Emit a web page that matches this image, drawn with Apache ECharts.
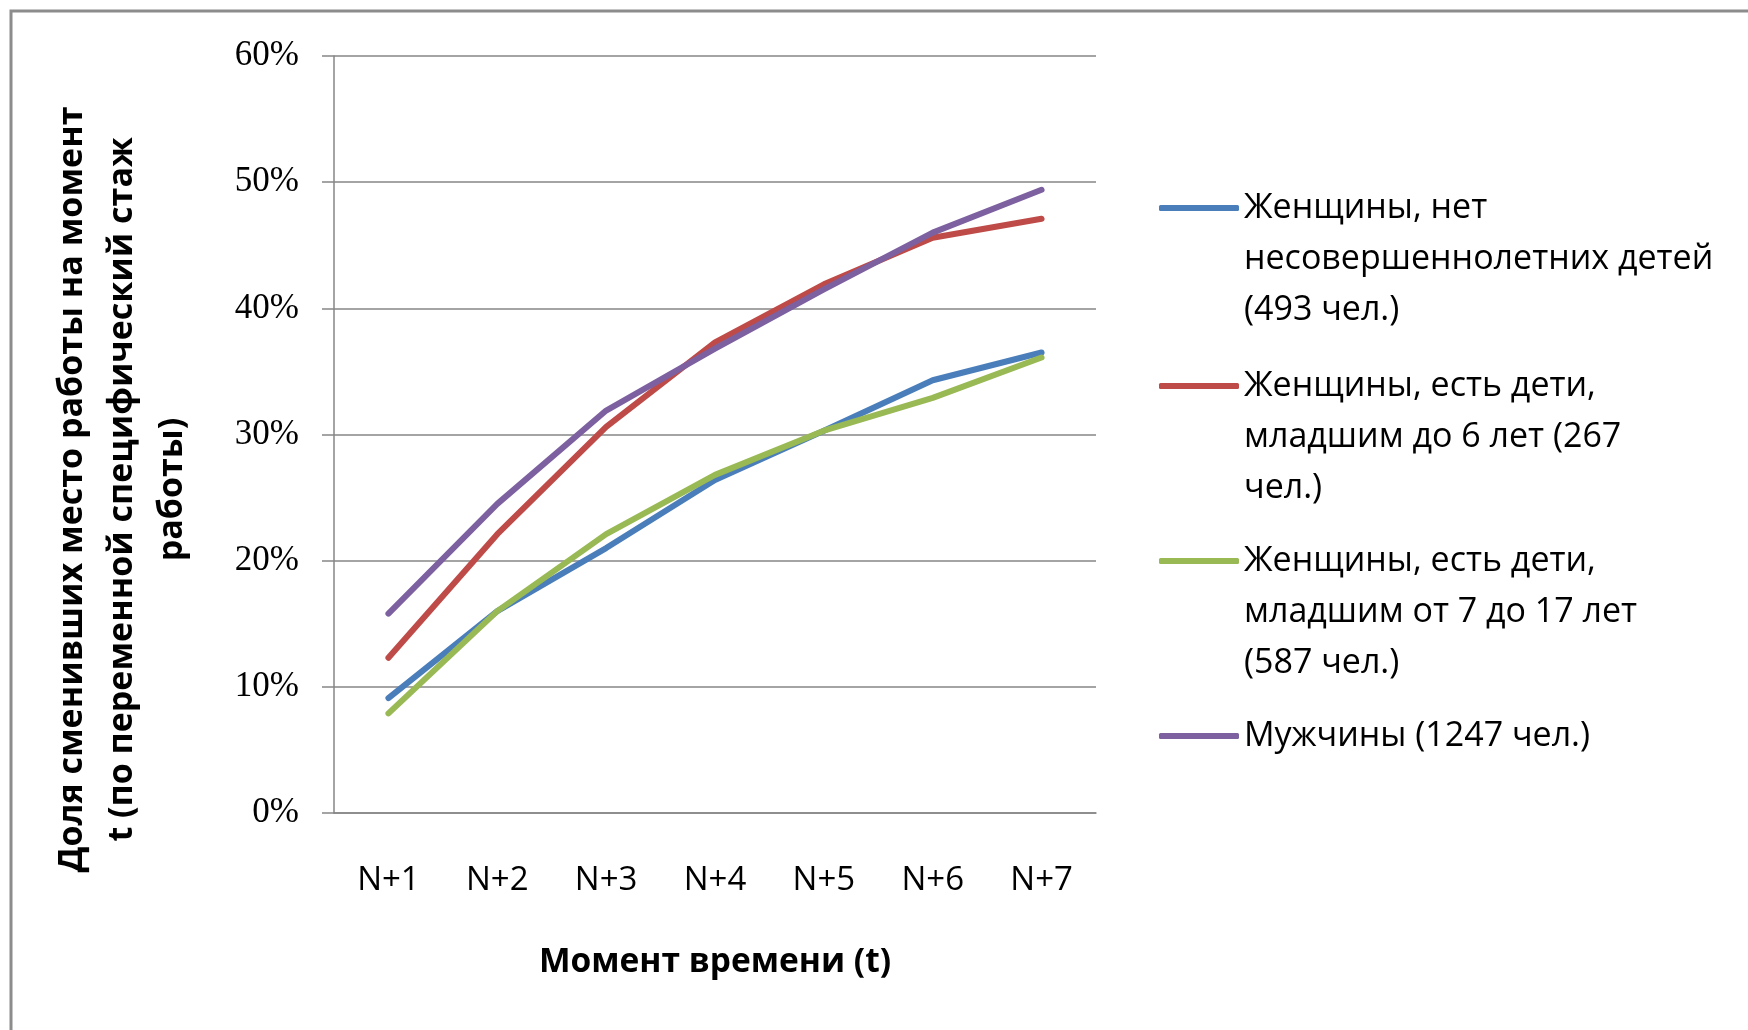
<!DOCTYPE html>
<html>
<head>
<meta charset="utf-8">
<script src="https://cdn.jsdelivr.net/npm/echarts@6/dist/echarts.min.js"></script>
<style>
html,body{margin:0;padding:0;background:#fff;}
#chart{width:1748px;height:1030px;}
</style>
</head>
<body>
<div id="chart"></div>
<script>
const categories = ['N+1', 'N+2', 'N+3', 'N+4', 'N+5', 'N+6', 'N+7'];
const seriesNames = [
  'Женщины, нет несовершеннолетних детей (493 чел.)',
  'Женщины, есть дети, младшим до 6 лет (267 чел.)',
  'Женщины, есть дети, младшим от 7 до 17 лет (587 чел.)',
  'Мужчины (1247 чел.)'
];
const legendLines = [
  ['Женщины, нет', 'несовершеннолетних детей', '(493 чел.)'],
  ['Женщины, есть дети,', 'младшим до 6 лет (267', 'чел.)'],
  ['Женщины, есть дети,', 'младшим от 7 до 17 лет', '(587 чел.)'],
  ['Мужчины (1247 чел.)']
];
const womenNoKids = [9.1, 16.0, 21.0, 26.4, 30.3, 34.3, 36.5];
const womenKidsUnder6 = [12.3, 22.1, 30.6, 37.3, 41.9, 45.6, 47.1];
const womenKids7to17 = [7.9, 16.0, 22.1, 26.8, 30.3, 32.9, 36.1];
const men = [15.8, 24.5, 31.9, 36.8, 41.5, 46.0, 49.4];
const yTicks = {min: 0, max: 60, interval: 10};
const yTitle = 'Доля сменивших место работы на момент\nt (по переменной специфический стаж\nработы)';
const xTitle = 'Момент времени (t)';

const colors = ['#4A7EBB', '#BE4B48', '#98B954', '#7D60A0'];
const values = [womenNoKids, womenKidsUnder6, womenKids7to17, men];

const L = 51;
const iconCenters = [208, 386, 561, 736];
const legendFont = 'Open Sans';
const legendSize = 34;

const legends = seriesNames.map((name, i) => {
  const n = legendLines[i].length;
  const pad = new Array(n - 1).fill(' ');
  return {
    data: [name],
    orient: 'vertical',
    left: 1159,
    top: iconCenters[i] - (2 * n - 1) * L / 2,
    padding: 0,
    icon: 'roundRect',
    itemWidth: 80,
    itemHeight: 6,
    formatter: () => pad.concat(legendLines[i]).join('\n'),
    textStyle: {
      fontFamily: legendFont,
      fontSize: legendSize,
      lineHeight: L,
      color: '#000'
    }
  };
});

const chart = echarts.init(document.getElementById('chart'));
chart.setOption({
  animation: false,
  backgroundColor: '#fff',
  graphic: [{
    type: 'rect',
    shape: {x: 11, y: 11, width: 2000, height: 2000},
    style: {fill: 'none', stroke: '#8c8c8c', lineWidth: 3},
    silent: true
  }],
  grid: {left: 334, right: 652, top: 56, bottom: 217, containLabel: false, outerBoundsMode: 'none'},
  legend: legends,
  xAxis: {
    type: 'category',
    data: categories,
    boundaryGap: true,
    axisLine: {show: true, lineStyle: {color: '#868686', width: 1.5}},
    axisTick: {show: false},
    axisLabel: {
      margin: 51,
      fontFamily: 'Open Sans',
      fontSize: 33,
      lineHeight: 33,
      color: '#000'
    },
    name: xTitle,
    nameLocation: 'middle',
    nameGap: 132,
    nameTextStyle: {
      fontFamily: 'Open Sans',
      fontWeight: 'bold',
      fontSize: 33.5,
      lineHeight: 34,
      color: '#000'
    }
  },
  yAxis: {
    type: 'value',
    min: yTicks.min,
    max: yTicks.max,
    interval: yTicks.interval,
    axisLine: {show: true, lineStyle: {color: '#868686', width: 1.5}},
    axisTick: {show: true, length: 12, lineStyle: {color: '#868686', width: 1.5}},
    splitLine: {show: true, lineStyle: {color: '#868686', width: 1.5}},
    axisLabel: {
      margin: 35,
      formatter: '{value}%',
      fontFamily: 'Liberation Serif',
      fontSize: 35,
      color: '#000'
    },
    name: yTitle,
    nameLocation: 'middle',
    nameRotate: 90,
    nameGap: 137,
    nameTextStyle: {
      fontFamily: 'Open Sans',
      fontWeight: 'bold',
      fontSize: 34,
      lineHeight: 50,
      color: '#000',
      align: 'center',
      padding: [0, 110, 0, 0]
    }
  },
  series: seriesNames.map((name, i) => ({
    name: name,
    type: 'line',
    data: values[i],
    showSymbol: false,
    symbol: 'none',
    lineStyle: {color: colors[i], width: 6, cap: 'round', join: 'round'},
    itemStyle: {color: colors[i]}
  }))
});
</script>
</body>
</html>
